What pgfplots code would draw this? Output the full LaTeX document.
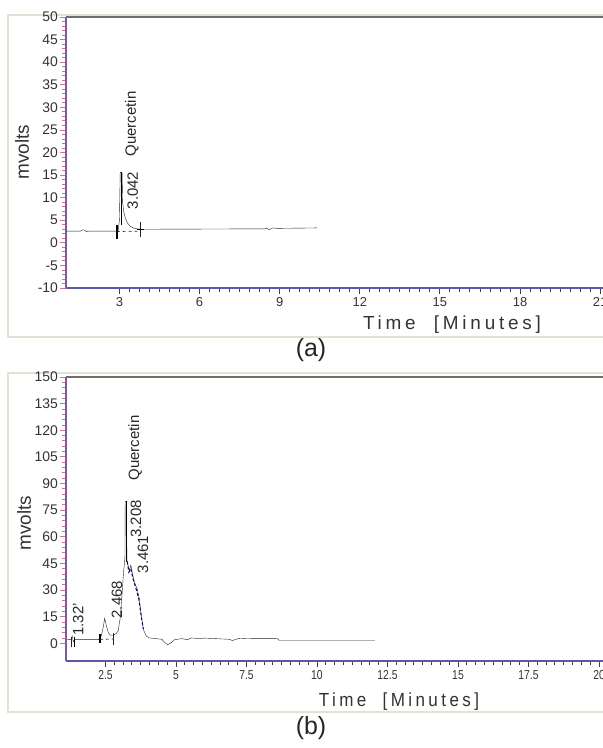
\documentclass[border=0pt]{standalone}
\usepackage{fontspec}
\setmainfont{Liberation Sans}
\newfontfamily\spaced[LetterSpace=20]{Liberation Sans}
\usepackage{pgfplots}
\pgfplotsset{compat=1.18}
\definecolor{framec}{HTML}{E2E2D4}
\definecolor{yaxc}{HTML}{7A5C9E}
\definecolor{ytickc}{HTML}{C77890}
\definecolor{xaxc}{HTML}{5A58A8}
\definecolor{topc}{HTML}{6E6E6E}
\definecolor{trace}{HTML}{222222}
\tikzset{note/.style={rotate=90, font=\fontsize{15}{15}\selectfont, text=black!85}}
\pgfplotsset{
  chrom/.style={
    scale only axis, clip=false,
    axis x line*=bottom, axis y line*=left,
    tick align=outside,
    major tick length=6bp, minor tick length=4bp,
    x axis line style={draw=xaxc, line width=1.3bp},
    y axis line style={draw=yaxc, line width=1.3bp},
    x tick style={draw=black!75, line width=0.9bp},
    y tick style={draw=ytickc, line width=0.8bp},
    /pgf/number format/assume math mode=true,
    xticklabel style={font=\fontsize{13}{13}\selectfont, text=black!80},
    yticklabel style={font=\fontsize{14}{14}\selectfont, text=black!80, xshift=1.5bp},
    cycle list={{trace, no markers, line width=1.6bp}},
  },
}
\begin{document}
\begin{tikzpicture}[x=1bp,y=1bp]
\useasboundingbox (0,0) rectangle (603,748);
% panel frames
\draw[framec, line width=1.6bp] (8,733) rectangle (660,411);
\draw[framec, line width=1.6bp] (8,375) rectangle (660,36);

% ---- panel (a)
\begin{axis}[chrom, at={(66bp,460bp)}, anchor=south west,
  width=544bp, height=271bp,
  xmin=1, xmax=21.37, ymin=-10, ymax=50,
  xtick={3,6,...,21}, minor x tick num=7,
  ytick={-10,-5,...,50}, minor y tick num=4]
\draw[topc, line width=2bp] (rel axis cs:0,1) -- (rel axis cs:1.05,1);
\addplot coordinates {
  (1.0,2.6)(1.55,2.6)(1.62,2.9)(1.7,2.8)(1.78,2.4)(1.86,2.6)(2.95,2.6)
  (3.0,5)(3.03,15.6)(3.08,15.6)(3.1,15.4)(3.12,9)(3.16,7)(3.22,5.5)
  (3.3,4.4)(3.4,3.7)(3.55,3.2)(3.8,3.0)(8.45,3.1)(8.5,3.3)(8.6,2.9)
  (8.75,3.3)(8.9,3.2)(10.4,3.3)};
\addplot coordinates {(3.07,15.6)(3.07,4)};
\addplot coordinates {(2.9,0.8)(2.9,4)};
\addplot coordinates {(3.78,1.3)(3.78,4.6)};
\addplot coordinates {(3.65,3.0)(3.92,3.0)};
\addplot[trace, dashed, line width=0.7bp] coordinates {(2.9,2.5)(3.78,2.6)};
\node[note] at (axis cs:3.5,11.6) {3.042};
\node[note] at (axis cs:3.47,26.3) {Quercetin};
\end{axis}
\node[rotate=90, font=\fontsize{19}{19}\selectfont, text=black!80] at (22,596) {mvolts};
\node[font=\spaced\fontsize{19}{19}\selectfont, text=black!80] at (452,423) {Time\ \ [Minutes]};
\node[font=\fontsize{25}{25}\selectfont, text=black!85] at (311,398) {(a)};

% ---- panel (b)
\begin{axis}[chrom, at={(66bp,87bp)}, anchor=south west,
  width=544bp, height=284bp,
  xmin=1.1, xmax=20.39, ymin=-10, ymax=150,
  xtick={2.5,5,...,20}, minor x tick num=7,
  ytick={0,15,...,150}, minor y tick num=4,
  xticklabel style={xscale=0.8}]
\draw[topc, line width=2bp] (rel axis cs:0,1) -- (rel axis cs:1.05,1);
\addplot coordinates {
  (1.15,2)(1.28,2)(1.32,4)(1.36,1)(1.42,2)(2.25,2)(2.35,4)(2.42,9)
  (2.47,14)(2.53,10)(2.6,6)(2.68,4.5)(2.78,4.5)(2.88,5.5)(2.95,7)
  (3.02,14)(3.08,26)(3.14,40)(3.19,48)(3.2,80)(3.24,80)(3.26,47)
  (3.3,44)(3.35,41)(3.4,44)(3.46,39)(3.5,36)(3.56,33)(3.62,31)
  (3.7,25)(3.75,18)(3.8,12)(3.86,7)(3.95,4)(4.05,3)(4.3,2.6)(4.5,2.2)
  (4.6,0.5)(4.7,-0.8)(4.8,0)(4.95,2)(5.2,2.6)(5.4,2)(5.55,3)(5.8,2.6)
  (6.0,2.9)(6.4,2.6)(6.9,2.2)(7.0,1.5)(7.2,2.6)(7.5,2.8)(8.6,2.7)
  (8.65,1.7)(12.05,1.7)};
\addplot coordinates {(3.23,80)(3.23,46)};
\addplot[color=blue!35!black, densely dashed, line width=1bp] coordinates {
  (3.27,46)(3.33,40)(3.4,42)(3.48,36)(3.58,31)(3.68,25)(3.76,16)(3.84,8)};
\addplot coordinates {(1.3,-2.3)(1.3,3.4)};
\addplot coordinates {(1.38,-2.3)(1.38,3.4)};
\addplot coordinates {(2.3,0)(2.3,5)};
\addplot coordinates {(2.77,-1)(2.77,6)};
\addplot[trace, dashed, line width=0.7bp] coordinates {(2.3,2.2)(2.77,2.4)};
\node[note] at (axis cs:1.53,13.5) {1.32'};
\node[note] at (axis cs:2.91,24.5) {2.468};
\node[note] at (axis cs:3.58,70) {3.208};
\node[note] at (axis cs:3.83,50) {3.461};
\node[note] at (axis cs:3.55,110) {Quercetin};
\end{axis}
\node[rotate=90, font=\fontsize{19}{19}\selectfont, text=black!80] at (24,225) {mvolts};
\node[font=\spaced\fontsize{19}{19}\selectfont, text=black!80, xscale=0.9] at (399,46) {Time\ \ [Minutes]};
\node[font=\fontsize{25}{25}\selectfont, text=black!85] at (311,20) {(b)};
\end{tikzpicture}
\end{document}
